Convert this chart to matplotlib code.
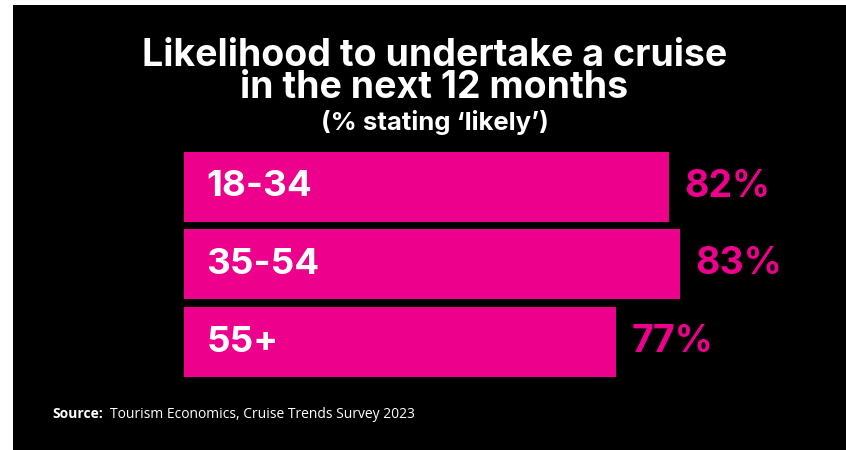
import matplotlib
matplotlib.use("Agg")
import matplotlib.pyplot as plt
from matplotlib.patches import Rectangle

# data
age_groups = ["18-34", "35-54", "55+"]
likely_pct = [82, 83, 77]

pink = "#EC008C"
W, H = 846, 450
tfont = "Inter"

fig = plt.figure(figsize=(W / 100, H / 100), dpi=100)
fig.patch.set_facecolor("white")
fig.patches.append(Rectangle((13 / W, 0), 1, 445 / H, transform=fig.transFigure,
                             facecolor="black", edgecolor="none", zorder=-5))

# axes placed in pixel terms (left edge of bars at 184px)
ax = fig.add_axes([184 / W, 1 - 380.9 / H, (W - 184) / W, 233.25 / H])
ax.set_facecolor("none")
ax.barh(range(len(age_groups)), likely_pct, height=0.9, color=pink)
ax.set_xlim(36.2, 98.7)
ax.set_ylim(2.5, -0.5)
ax.axis("off")

for i, (grp, v) in enumerate(zip(age_groups, likely_pct)):
    ax.annotate(grp, (36.2, i), xytext=(16, 0), textcoords="offset points",
                va="center", ha="left", color="white", fontsize=26.5,
                fontweight="bold", family=tfont)
    ax.annotate(f"{v}%", (v, i), xytext=(11, 0), textcoords="offset points",
                va="center", ha="left", color=pink, fontsize=27,
                fontweight="bold", family=tfont)

cx = 434.5 / W
# two title lines as one text, tight line spacing like the original
fig.text(cx, 1 - 98 / H, "Likelihood to undertake a cruise\nin the next 12 months",
         ha="center", va="baseline", multialignment="center", linespacing=0.85,
         color="white", fontsize=27, fontweight="bold", family=tfont)
fig.text(cx, 1 - 130 / H, "(% stating \u2018likely\u2019)", ha="center", va="baseline",
         color="white", fontsize=18.5, fontweight="bold", family=tfont)

fig.text(52 / W, 1 - 418 / H, "Source:", ha="left", va="baseline", color="white",
         fontsize=10, fontweight="bold", family="Open Sans")
fig.text(110 / W, 1 - 418 / H, "Tourism Economics, Cruise Trends Survey 2023", ha="left",
         va="baseline", color="white", fontsize=10, family="Open Sans")

fig.savefig("out.png", dpi=100, facecolor=fig.get_facecolor())
